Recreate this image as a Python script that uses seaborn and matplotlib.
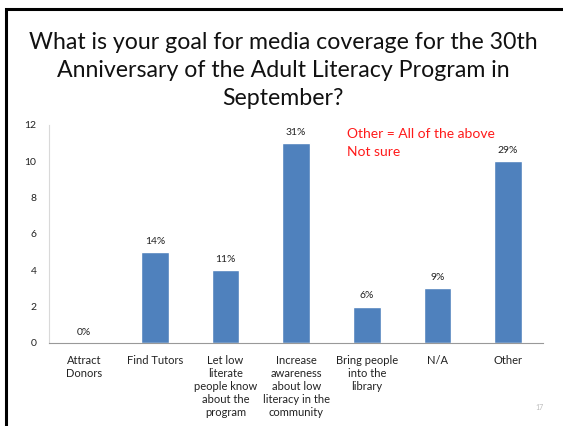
import matplotlib
matplotlib.use("Agg")
import matplotlib.pyplot as plt
import pandas as pd
import seaborn as sns
from matplotlib.patches import Rectangle

categories = ["Attract\nDonors", "Find Tutors", "Let low\nliterate\npeople know\nabout the\nprogram",
              "Increase\nawareness\nabout low\nliteracy in the\ncommunity", "Bring people\ninto the\nlibrary",
              "N/A", "Other"]
counts = [0, 5, 4, 11, 2, 3, 10]
pct_labels = ["0%", "14%", "11%", "31%", "6%", "9%", "29%"]
y_ticks = [0, 2, 4, 6, 8, 10, 12]

sns.set_theme(style="white")
plt.rcParams['font.family'] = ['Lato', 'DejaVu Sans']

df = pd.DataFrame({"goal": categories, "count": counts})

fig = plt.figure(figsize=(5.63, 4.26), dpi=100)
ax = fig.add_axes([0.087, 0.195, 0.878, 0.512])

sns.barplot(data=df, x="goal", y="count", color="#4F81BD", width=0.39, ax=ax, saturation=1)

for i, (v, lab) in enumerate(zip(counts, pct_labels)):
    ax.text(i, v + 0.35, lab, ha="center", va="bottom", fontsize=7.5, color="#222222")

ax.set_ylim(0, 12)
ax.set_xlim(-0.5, len(categories) - 0.5)
ax.set_yticks(y_ticks)
ax.set_yticklabels([str(t) for t in y_ticks], fontsize=7.5, color="#222222")
ax.set_xticks(range(len(categories)))
ax.set_xticklabels(categories, fontsize=8, color="#222222", va="top", linespacing=1.2)
ax.tick_params(axis="x", length=0, pad=9)
ax.tick_params(axis="y", length=0, pad=9)
ax.set_xlabel("")
ax.set_ylabel("")
for s in ["top", "right"]:
    ax.spines[s].set_visible(False)
ax.spines["left"].set_color("#d9d9d9")
ax.spines["bottom"].set_color("#999999")
ax.spines["left"].set_linewidth(0.8)
ax.spines["bottom"].set_linewidth(0.8)

ax.text(3.72, 11.0, "Other = All of the above\nNot sure", color="#ff1a1a", fontsize=10,
        ha="left", va="center", linespacing=1.6)

fig.text(0.503, 0.835, "What is your goal for media coverage for the 30th\n"
         "Anniversary of the Adult Literacy Program in\nSeptember?",
         ha="center", va="center", fontsize=16.7, color="#111111", linespacing=1.42)

fig.text(0.958, 0.038, "17", fontsize=5, color="#bbbbbb", ha="center")

# slide border
fig.add_artist(Rectangle((0.011, -0.1), 1.5, 1.079, transform=fig.transFigure,
                         fill=False, edgecolor="black", linewidth=2.2))

fig.savefig("out.png", dpi=100)
